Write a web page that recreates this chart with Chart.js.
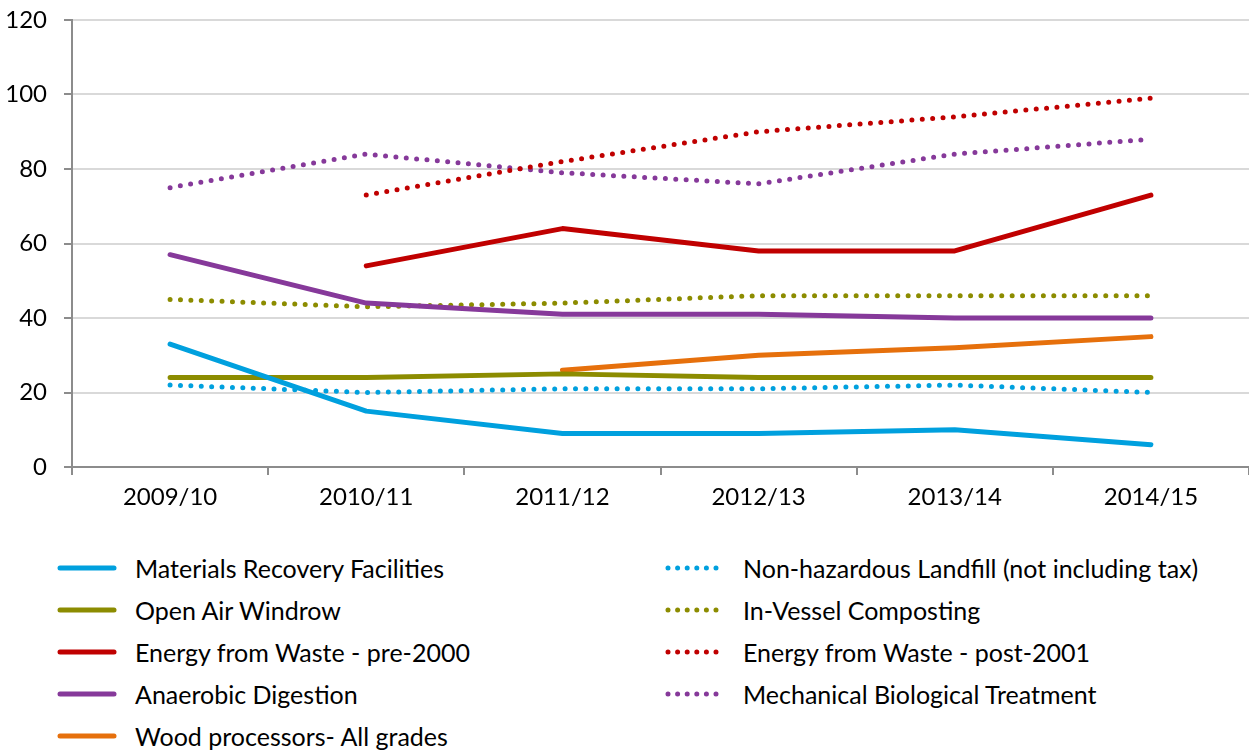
<!DOCTYPE html>
<html>
<head>
<meta charset="utf-8">
<script src="https://cdn.jsdelivr.net/npm/chart.js@4/dist/chart.umd.min.js"></script>
<style>
  html, body { margin: 0; padding: 0; background: #fff; }
  #wrap { position: relative; width: 1249px; height: 752px; font-family: Lato, sans-serif; }
  #plot { position: absolute; left: 0; top: 0; width: 1249px; height: 520px; }
  #legend { position: absolute; left: 57px; top: 547px; display: grid;
            grid-template-columns: 608px 560px; grid-auto-rows: 42px; }
  .item { display: flex; align-items: center; font-size: 25px; color: #000; white-space: nowrap; }
  .item svg { margin-right: 18px; flex: none; }
</style>
</head>
<body>
<div id="wrap">
  <div id="plot"><canvas id="priceChart"></canvas></div>
  <div id="legend"></div>
</div>
<script>
// gate fees by facility type, per financial year
var years = ["2009/10", "2010/11", "2011/12", "2012/13", "2013/14", "2014/15"];
var yTicks = [0, 20, 40, 60, 80, 100, 120];

var mrf        = [33, 15, 9, 9, 10, 6];
var landfill   = [22, 20, 21, 21, 22, 20];
var windrow    = [24, 24, 25, 24, 24, 24];
var inVessel   = [45, 43, 44, 46, 46, 46];
var efwPre     = [null, 54, 64, 58, 58, 73];
var efwPost    = [null, 73, 82, 90, 94, 99];
var anaerobic  = [57, 44, 41, 41, 40, 40];
var mbt        = [75, 84, 79, 76, 84, 88];
var wood       = [null, null, 26, 30, 32, 35];

var BLUE = "#00a0de", OLIVE = "#8c8c00", RED = "#c00000", PURPLE = "#86399a", ORANGE = "#e6700c";

function series(label, data, color, dotted) {
  return {
    label: label,
    data: data,
    borderColor: color,
    backgroundColor: color,
    borderWidth: 5,
    borderDash: dotted ? [0, 10.4] : [],
    borderCapStyle: "round",
    borderJoinStyle: "round",
    pointRadius: 0,
    pointHoverRadius: 0,
    tension: 0,
    fill: false,
    dotted: dotted
  };
}

var datasets = [
  series("Materials Recovery Facilities", mrf, BLUE, false),
  series("Non-hazardous Landfill (not including tax)", landfill, BLUE, true),
  series("Open Air Windrow", windrow, OLIVE, false),
  series("In-Vessel Composting", inVessel, OLIVE, true),
  series("Energy from Waste - pre-2000", efwPre, RED, false),
  series("Energy from Waste - post-2001", efwPost, RED, true),
  series("Anaerobic Digestion", anaerobic, PURPLE, false),
  series("Mechanical Biological Treatment", mbt, PURPLE, true),
  series("Wood processors- All grades", wood, ORANGE, false)
];

// draw the dotted ones underneath the solid ones
datasets.forEach(function (d) { d.order = d.dotted ? 1 : 0; });

Chart.defaults.font.family = "Lato, sans-serif";
Chart.defaults.font.size = 24;
Chart.defaults.color = "#000";

var ctx = document.getElementById("priceChart").getContext("2d");
var chart = new Chart(ctx, {
  type: "line",
  data: { labels: years, datasets: datasets },
  options: {
    responsive: true,
    maintainAspectRatio: false,
    animation: false,
    layout: { padding: { top: 20, right: 0, left: 0, bottom: 0 } },
    plugins: { legend: { display: false }, tooltip: { enabled: false } },
    scales: {
      x: {
        offset: true,
        grid: { offset: true, drawOnChartArea: false, drawTicks: true, tickLength: 8, color: "#8c8c8c", lineWidth: 2 },
        border: { color: "#8c8c8c", width: 2 },
        ticks: { padding: 8, maxRotation: 0 },
        afterFit: function (s) { s.height = 53; s.paddingLeft = 0; s.paddingRight = 0; }
      },
      y: {
        min: 0,
        max: 120,
        afterBuildTicks: function (s) { s.ticks = yTicks.map(function (v) { return { value: v }; }); },
        grid: { color: "#d9d9d9", lineWidth: 2, tickLength: 8, tickColor: "#8c8c8c" },
        border: { color: "#8c8c8c", width: 2 },
        ticks: { padding: 17 },
        afterFit: function (s) { s.width = 72; s.paddingTop = 0; s.paddingBottom = 0; }
      }
    }
  }
});

// two-column legend built from the chart's datasets
var legend = document.getElementById("legend");
chart.data.datasets.forEach(function (d) {
  var item = document.createElement("div");
  item.className = "item";
  var dash = d.dotted ? ' stroke-dasharray="0 9.6"' : "";
  item.innerHTML =
    '<svg width="60" height="10"><line x1="3" y1="5" x2="57" y2="5" stroke="' + d.borderColor +
    '" stroke-width="5" stroke-linecap="round"' + dash + '/></svg>' +
    '<span>' + d.label + '</span>';
  legend.appendChild(item);
});
</script>
</body>
</html>
